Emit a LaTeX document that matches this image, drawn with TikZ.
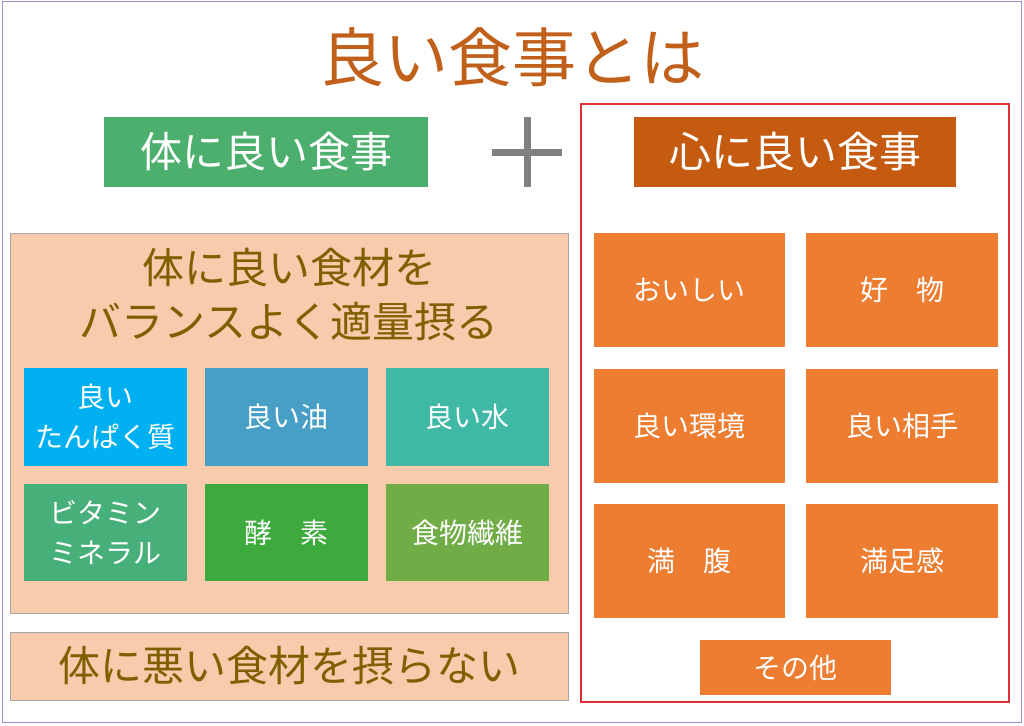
\documentclass[tikz,border=0pt]{standalone}
\usepackage{fontspec}
\setmainfont{Noto Sans CJK JP}
\definecolor{ttl}{HTML}{C0601A}
\definecolor{olv}{HTML}{7F6000}
\definecolor{peach}{HTML}{F8CBAD}
\definecolor{orng}{HTML}{ED7D31}
\definecolor{brn}{HTML}{C55A11}
\definecolor{grn}{HTML}{4CAF6E}
\definecolor{rd}{HTML}{E0303A}
\definecolor{c1}{HTML}{00B0F0}
\definecolor{c2}{HTML}{479FC6}
\definecolor{c3}{HTML}{40B8A6}
\definecolor{c4}{HTML}{47AF7A}
\definecolor{c5}{HTML}{3DAA3D}
\definecolor{c6}{HTML}{70AD47}
\tikzset{
 box/.style={inner sep=0pt,align=center,text=white,font=\fontsize{28}{40}\selectfont},
 ob/.style={box,fill=orng},
}
\newcommand{\bx}[6]{\node[#1,minimum width=#4-#2,minimum height=#5-#3] (#6) at ({(#2+#4)/2},{(#3+#5)/2})}
\begin{document}
\begin{tikzpicture}[x=1pt,y=-1pt]
\useasboundingbox (0,0) rectangle (1024,725);
\draw[color=gray!60!blue!60, line width=1pt] (2,2) rectangle (1021,722);
\node[text=ttl,font=\fontsize{64}{70}\selectfont] (title) at (512,57) {良い食事とは};
\bx{box,fill=grn,font=\fontsize{42}{48}\selectfont}{104}{117}{428}{187}{g} {体に良い食事};
\node[inner sep=0pt,minimum size=70pt] (plus) at (527,152) {};
\draw[gray,line width=7pt] (plus.west) -- (plus.east) (plus.north) -- (plus.south);
\draw[rd,line width=2.5pt] (581,104) rectangle (1009,702);
\bx{box,fill=brn,font=\fontsize{42}{48}\selectfont}{634}{117}{956}{187}{b} {心に良い食事};
\draw[fill=peach,draw=gray!70] (10,233) rectangle (568,613);
\node[text=olv,align=center,font=\fontsize{42}{54}\selectfont] (t1) at (289,295) {体に良い食材を\\バランスよく適量摂る};
\bx{box,fill=c1}{24}{368}{187}{466}{s1} {良い\\たんぱく質};
\bx{box,fill=c2}{205}{368}{368}{466}{s2} {良い油};
\bx{box,fill=c3}{386}{368}{549}{466}{s3} {良い水};
\bx{box,fill=c4}{24}{484}{187}{581}{s4} {ビタミン\\ミネラル};
\bx{box,fill=c5}{205}{484}{368}{581}{s5} {酵\quad 素};
\bx{box,fill=c6}{386}{484}{549}{581}{s6} {食物繊維};
\bx{box,fill=peach,draw=gray!70,text=olv,font=\fontsize{42}{48}\selectfont}{10}{632}{568}{700}{bad} {体に悪い食材を摂らない};
\bx{ob}{594}{233}{785}{347}{o1} {おいしい};
\bx{ob}{806}{233}{998}{347}{o2} {好\quad 物};
\bx{ob}{594}{369}{785}{483}{o3} {良い環境};
\bx{ob}{806}{369}{998}{483}{o4} {良い相手};
\bx{ob}{594}{504}{785}{618}{o5} {満\quad 腹};
\bx{ob}{806}{504}{998}{618}{o6} {満足感};
\bx{ob}{700}{640}{891}{695}{o7} {その他};
\end{tikzpicture}
\end{document}
